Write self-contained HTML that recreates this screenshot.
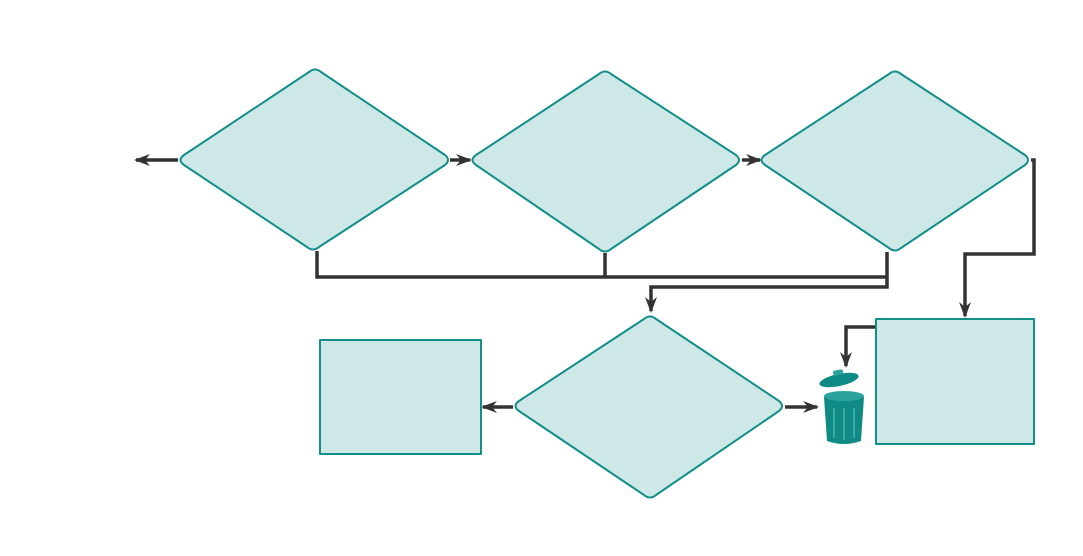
<!DOCTYPE html>
<html><head><style>body{margin:0;background:#fff}svg{display:block}</style></head><body>
<svg width="1083" height="556" viewBox="0 0 1083 556" xmlns="http://www.w3.org/2000/svg">
<defs>
<marker id="a" markerWidth="16" markerHeight="12" refX="14" refY="6" orient="auto" markerUnits="userSpaceOnUse" viewBox="0 0 16 12">
<path d="M0,0 L16,6 L0,12 L5,6 Z" fill="#333"/></marker>
</defs>
<g fill="none" stroke="#333" stroke-width="3.5">
<polyline points="317,251 317,277 887,277"/>
<polyline points="605,253 605,277"/>
<polyline points="887,252 887,287 651,287 651,311" marker-end="url(#a)"/>
<polyline points="1031,160 1034,160 1034,254 965,254 965,316" marker-end="url(#a)"/>
<polyline points="876,327 846,327 846,366" marker-end="url(#a)"/>
<line x1="178" y1="160" x2="136" y2="160" marker-end="url(#a)"/>
<line x1="450" y1="160" x2="470" y2="160" marker-end="url(#a)"/>
<line x1="742" y1="160" x2="760" y2="160" marker-end="url(#a)"/>
<line x1="785" y1="407" x2="817" y2="407" marker-end="url(#a)"/>
<line x1="513" y1="407" x2="483" y2="407" marker-end="url(#a)"/>
</g>
<g fill="#cde8e6" stroke="#138e89" stroke-width="2" stroke-linejoin="round">
<path d="M309,72 Q315,67 321,72 L445,155 Q451,160 445,165 L319,247 Q313,252 307,247 L184,165 Q177,160 184,155 Z"/>
<path d="M599,74 Q605,69 611,74 L736,155 Q742,160 736,165 L611,249 Q605,254 599,249 L476,165 Q469,160 476,155 Z"/>
<path d="M889,74 Q895,69 901,74 L1025,155 Q1031,160 1025,165 L901,248 Q895,253 889,248 L765,165 Q758,160 765,155 Z"/>
<path d="M644,319 Q650,314 656,319 L779,401 Q785,406 779,411 L656,495 Q650,500 644,495 L519,411 Q512,406 519,401 Z"/>
<rect x="320" y="340" width="161" height="114"/>
<rect x="876" y="319" width="158" height="125"/>
</g>
<g>
<ellipse cx="839" cy="380" rx="20" ry="6" transform="rotate(-12 839 380)" fill="#0f8a84"/>
<rect x="833" y="370" width="10" height="5" rx="2" transform="rotate(-12 838 372)" fill="#2aa39c"/>
<path d="M824,397 L864,397 L861,441 Q844,447 827,441 Z" fill="#0f8a84"/>
<ellipse cx="844" cy="396" rx="20" ry="5" fill="#2aa39c"/>
<g stroke="#37aaa2" stroke-width="2"><line x1="834" y1="408" x2="834" y2="438"/><line x1="844" y1="408" x2="844" y2="440"/><line x1="854" y1="408" x2="854" y2="438"/></g>
</g>
</svg>
</body></html>
